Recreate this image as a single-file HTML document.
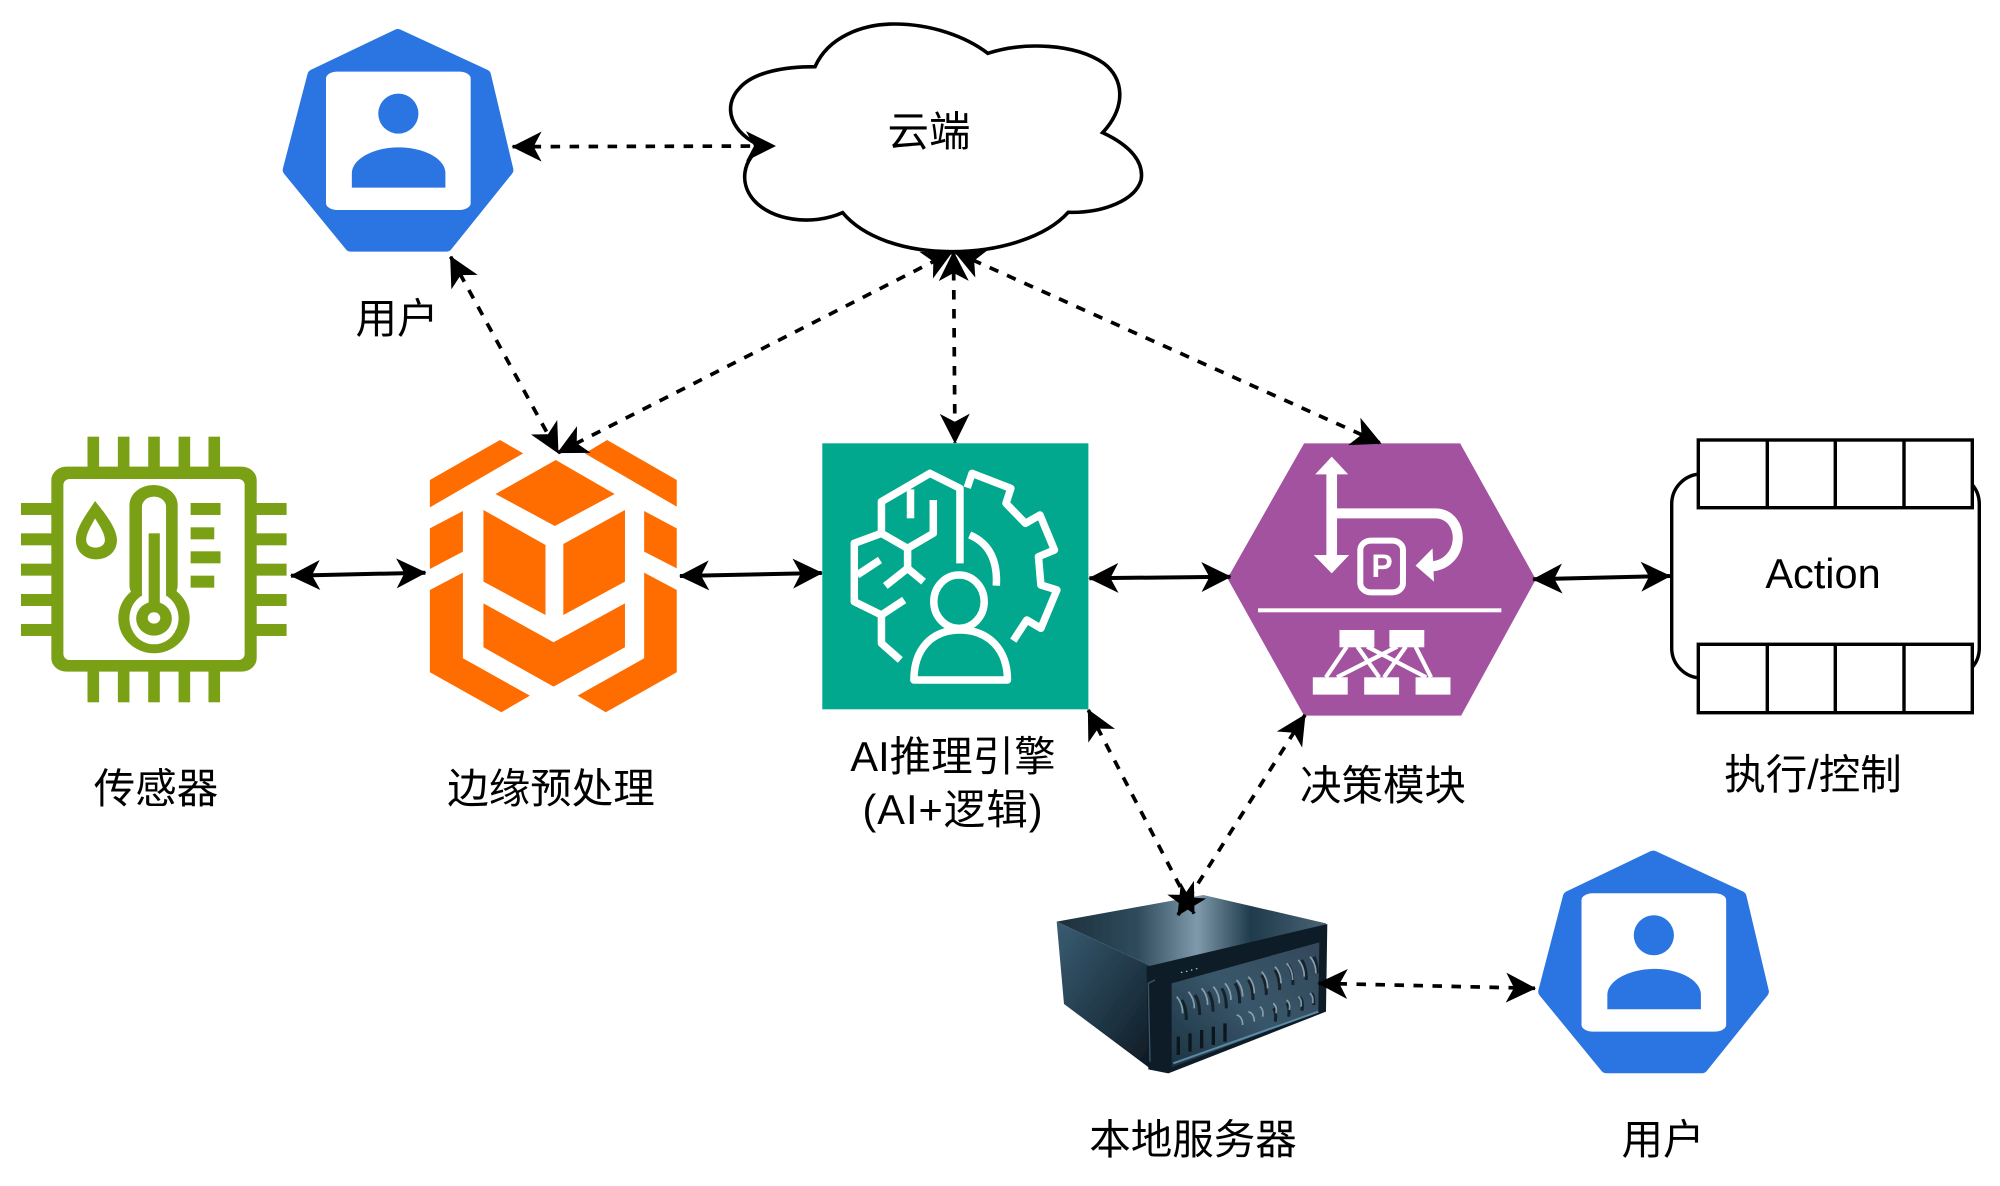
<!DOCTYPE html>
<html><head><meta charset="utf-8"><style>html,body{margin:0;padding:0;background:#fff}svg{display:block}text{font-family:"Liberation Sans","Noto Sans CJK SC",sans-serif;font-size:41.5px;fill:#000;text-anchor:middle}</style></head><body>
<svg width="2000" height="1186" viewBox="0 0 2000 1186" xmlns="http://www.w3.org/2000/svg">
<defs>
<marker id="a" viewBox="0 0 30 30" refX="29" refY="15" markerWidth="30" markerHeight="30" markerUnits="userSpaceOnUse" orient="auto-start-reverse"><path d="M30,15 L0,0 L8,15 L0,30 Z" fill="#000"/></marker>
<linearGradient id="st" x1="0" x2="1" y1="0" y2="0"><stop offset="0" stop-color="#1c2f3c"/><stop offset=".3" stop-color="#2f4b5c"/><stop offset=".52" stop-color="#7e9aab"/><stop offset=".72" stop-color="#1f3b4b"/><stop offset="1" stop-color="#4a6475"/></linearGradient>
<linearGradient id="sl" x1="0" x2="1" y1="0" y2="1"><stop offset="0" stop-color="#3a5c72"/><stop offset=".6" stop-color="#1d3342"/><stop offset="1" stop-color="#0c151c"/></linearGradient>
<linearGradient id="sf" x1="0" x2="1" y1="1" y2="0"><stop offset="0" stop-color="#1c3342"/><stop offset=".5" stop-color="#39566a"/><stop offset="1" stop-color="#33495a"/></linearGradient>
<filter id="b"><feGaussianBlur stdDeviation="1.1"/></filter>
<g id="u">
<g transform="translate(260,0) scale(.574,.3333)">
<polygon points="240,105 392,226 431,510 325,737 158,737 50,510 93,226" fill="#2a75e2" stroke="#2a75e2" stroke-width="12" stroke-linejoin="round" vector-effect="non-scaling-stroke"/>
<rect x="115" y="215" width="252" height="415" rx="20" ry="20" fill="#fff"/>
<ellipse cx="241" cy="341" rx="35" ry="60" fill="#2a75e2"/>
<path d="M160,563 L160,520 C160,475 200,442 241,442 C285,442 323,475 323,520 L323,563 Z" fill="#2a75e2"/>
</g>
</g>
</defs>

<!-- sensor -->
<g transform="translate(0,400) scale(.4464,.3333)" fill="#7aa116">
<rect x="196" y="110" width="26" height="100"/><rect x="264" y="110" width="26" height="100"/><rect x="332" y="110" width="26" height="100"/><rect x="400" y="110" width="26" height="100"/><rect x="467" y="110" width="26" height="100"/>
<rect x="196" y="805" width="26" height="102"/><rect x="264" y="805" width="26" height="102"/><rect x="332" y="805" width="26" height="102"/><rect x="400" y="805" width="26" height="102"/><rect x="467" y="805" width="26" height="102"/>
<rect x="47" y="309" width="80" height="36"/><rect x="47" y="400" width="80" height="36"/><rect x="47" y="491" width="80" height="36"/><rect x="47" y="582" width="80" height="36"/><rect x="47" y="672" width="80" height="36"/>
<rect x="565" y="309" width="77" height="36"/><rect x="565" y="400" width="77" height="36"/><rect x="565" y="491" width="77" height="36"/><rect x="565" y="582" width="77" height="36"/><rect x="565" y="672" width="77" height="36"/>
<rect x="115" y="200" width="460" height="615" rx="34" ry="40"/>
<rect x="142" y="237" width="406" height="543" rx="14" ry="18" fill="#fff"/>
<rect x="290" y="255" width="108" height="360" rx="54" ry="60"/>
<ellipse cx="345" cy="655" rx="80" ry="105"/>
<rect x="318" y="290" width="54" height="320" rx="27" ry="30" fill="#fff"/>
<ellipse cx="345" cy="655" rx="55" ry="78" fill="#fff"/>
<ellipse cx="345" cy="656" rx="40" ry="51"/>
<rect x="333" y="400" width="25" height="220"/>
<ellipse cx="345" cy="654" rx="14" ry="17" fill="#fff"/>
<rect x="427" y="309" width="67" height="36"/><rect x="427" y="382" width="53" height="36"/><rect x="427" y="454" width="67" height="36"/><rect x="427" y="527" width="53" height="36"/>
<path d="M213,303 C190,350 170,385 170,420 C170,455 190,478 215,478 C242,478 262,455 262,420 C262,385 235,340 213,303 Z"/>
<path d="M213,355 C205,375 193,400 193,420 C193,435 203,443 214,443 C225,443 235,435 235,420 C235,400 222,375 213,355 Z" fill="#fff"/>
</g>

<!-- orange -->
<g transform="translate(0,400) scale(.4464,.3333)" fill="#ff6d00">
<polygon points="963,240 1120,120 1172,160 963,322"/>
<polygon points="1360,120 1516,240 1516,320 1310,160"/>
<polygon points="963,385 1037,333 1037,455 963,507"/>
<polygon points="1443,333 1516,385 1516,505 1443,455"/>
<polygon points="963,570 1037,518 1037,775 1187,887 1123,937 963,817"/>
<polygon points="1443,518 1516,570 1516,817 1357,937 1294,887 1443,775"/>
<polygon points="1245,180 1377,282 1243,378 1110,282"/>
<polygon points="1083,330 1222,435 1222,645 1083,545"/>
<polygon points="1400,330 1400,545 1262,645 1262,432"/>
<polygon points="1083,610 1240,727 1400,610 1400,742 1240,860 1083,742"/>
</g>

<!-- teal -->
<g transform="translate(800,420) scale(.4847,.3333)">
<rect x="46" y="70" width="549" height="798" fill="#01a88d"/>
<g fill="none" stroke="#fff" stroke-width="7.5" stroke-linejoin="round">
<path vector-effect="non-scaling-stroke" d="M207,720 L168,670 L168,585 L112,545 L112,370 L168,340 L168,245 L268,160 L330,205 L330,430"/>
<path vector-effect="non-scaling-stroke" d="M228,295 L228,208"/>
<path vector-effect="non-scaling-stroke" d="M275,240 L275,340 L222,385 L168,340"/>
<path vector-effect="non-scaling-stroke" d="M222,385 L222,445 L176,498 M222,445 L255,485"/>
<path vector-effect="non-scaling-stroke" d="M165,420 L118,465"/>
<path vector-effect="non-scaling-stroke" d="M215,540 L168,585"/>
<path vector-effect="non-scaling-stroke" d="M345,203 L355,160 L435,205 L425,250 L465,310 L495,285 L525,390 L492,410 L497,495 L530,510 L497,625 L468,600 L440,662"/>
<path vector-effect="non-scaling-stroke" d="M350,345 C390,370 408,420 405,497"/>
<ellipse vector-effect="non-scaling-stroke" cx="328" cy="545" rx="52" ry="80"/>
<path vector-effect="non-scaling-stroke" d="M235,780 C235,690 270,630 330,630 C390,630 428,690 428,780 Z"/>
</g>
</g>

<!-- purple -->
<g transform="translate(800,420) scale(.4847,.3333)">
<polygon points="1040,70 1362,70 1518,478 1364,887 1040,887 882,475" fill="#a2529f"/>
<g fill="#fff">
<rect x="1086" y="150" width="22" height="270"/>
<polygon points="1097,110 1131,163 1063,163"/>
<polygon points="1060,405 1133,405 1097,460"/>
<polygon points="1270,437 1305,385 1308,485"/>
<rect x="945" y="565" width="502" height="12"/>
<rect x="1113" y="630" width="72" height="52"/><rect x="1216" y="630" width="72" height="52"/>
<rect x="1058" y="772" width="72" height="52"/><rect x="1164" y="772" width="72" height="52"/><rect x="1270" y="772" width="72" height="52"/>
</g>
<g fill="none" stroke="#fff">
<path vector-effect="non-scaling-stroke" stroke-width="10" d="M1097,280 L1310,280 C1375,280 1375,440 1295,440"/>
<rect vector-effect="non-scaling-stroke" stroke-width="6" x="1156" y="362" width="88" height="155" rx="22" ry="28"/>
<path vector-effect="non-scaling-stroke" stroke-width="4.2" d="M1128,680 L1085,772 M1150,680 L1195,772 M1170,680 L1292,772 M1232,680 L1108,772 M1250,680 L1205,772 M1270,680 L1302,772"/>
</g>
</g>
<text x="1382" y="577" style="font-size:32px;font-weight:bold;fill:#fff">P</text>

<!-- action -->
<g fill="none" stroke="#000" stroke-width="3.4">
<rect x="1671.7" y="474" width="307.6" height="204" rx="30" ry="30" fill="#fff"/>
<rect x="1698.3" y="440" width="274" height="67.7" fill="#fff"/>
<path d="M1767.3,440 V507.7 M1835.3,440 V507.7 M1904,440 V507.7"/>
<rect x="1698.3" y="644.3" width="274" height="68.4" fill="#fff"/>
<path d="M1767.3,644.3 V712.7 M1835.3,644.3 V712.7 M1904,644.3 V712.7"/>
</g>
<text x="1823" y="588">Action</text>

<!-- cloud -->
<g transform="translate(260,0) scale(.574,.3333)">
<path vector-effect="non-scaling-stroke" fill="#fff" stroke="#000" stroke-width="3.6" d="M967,200 C990,110 1050,72 1105,72 C1170,72 1230,110 1268,160 C1330,125 1420,130 1470,190 C1505,235 1510,320 1468,398 C1520,440 1540,490 1535,540 C1525,600 1470,640 1408,637 C1370,710 1290,755 1205,755 C1120,755 1050,710 1015,638 C960,680 890,660 860,600 C835,550 840,480 875,440 C820,400 805,320 835,265 C860,215 915,200 967,200 Z"/>
</g>
<text x="929" y="146">云端</text>

<!-- users -->
<use href="#u"/>
<use href="#u" transform="translate(1255.5,821.6)"/>

<!-- server -->
<g transform="translate(1040,880) scale(.3333)" filter="url(#b)">
<polygon points="50,125 490,45 858,130 860,180 835,190 390,270 340,262" fill="url(#st)"/>
<polygon points="50,125 340,262 365,262 330,565 72,372" fill="url(#sl)"/>
<polygon points="320,260 862,132 858,395 385,580 325,568" fill="#0f1c26"/>
<polygon points="395,310 838,187 835,395 395,562" fill="url(#sf)"/>
<path d="M345,300 L325,310 L330,545" fill="none" stroke="#3e5666" stroke-width="4"/>
<g fill="none" stroke="#0d1a23" stroke-width="9" opacity=".85">
<path d="M425,360 q14,20 14,60 M465,345 q14,20 14,60 M505,335 q14,20 14,60 M545,325 q14,20 14,60 M585,310 q14,20 14,60 M625,300 q14,20 14,60 M665,285 q14,20 14,60 M705,270 q14,20 14,60 M745,255 q14,20 14,60 M785,240 q14,20 14,60 M822,230 q10,20 10,50"/>
<path d="M700,385 q10,10 6,40 M740,370 q10,10 6,40 M780,352 q10,10 6,40 M815,340 q8,10 6,35"/>
</g>
<g fill="none" stroke="#9db2bf" stroke-width="5" opacity=".8">
<path d="M410,350 q18,20 18,50 M445,335 q18,20 18,50 M485,325 q18,20 18,50 M520,320 q18,20 18,50 M555,310 q18,20 18,50 M590,300 q18,20 18,50 M625,290 q18,20 18,50 M665,275 q18,20 18,50 M705,260 q18,20 18,50 M740,250 q18,20 18,50 M775,240 q18,20 18,50 M810,230 q18,20 18,50"/>
<path d="M590,405 q18,5 18,30 M625,395 q18,5 18,30 M660,380 q12,10 8,30 M700,370 q12,10 8,30 M740,360 q12,10 8,30 M775,350 q12,10 8,30 M810,340 q12,10 8,30"/>
</g>
<g stroke="#0b151c" stroke-width="10" fill="none"><path d="M415,470 V525 M450,460 V515 M485,450 V505 M520,440 V495 M555,430 V485"/></g>
<path d="M400,550 L835,395" stroke="#5a8aa5" stroke-width="6" fill="none"/>
<g fill="#8bc9a0"><circle cx="425" cy="277" r="2.5"/><circle cx="440" cy="274" r="2.5"/><circle cx="455" cy="270" r="2.5"/><circle cx="470" cy="266" r="2.5"/></g>
</g>

<!-- solid arrows -->
<g stroke="#000" stroke-width="4" fill="none">
<line x1="291" y1="575.7" x2="425.4" y2="572.7" marker-start="url(#a)" marker-end="url(#a)"/>
<line x1="680" y1="576" x2="821.8" y2="573" marker-start="url(#a)" marker-end="url(#a)"/>
<line x1="1089.4" y1="578.3" x2="1230.4" y2="576.7" marker-start="url(#a)" marker-end="url(#a)"/>
<line x1="1533.3" y1="579.3" x2="1670" y2="576" marker-start="url(#a)" marker-end="url(#a)"/>
</g>
<!-- dashed arrows -->
<g stroke="#000" stroke-width="3.7" fill="none" stroke-dasharray="9.5 9.5">
<line x1="512.6" y1="146.7" x2="775" y2="146" marker-start="url(#a)" marker-end="url(#a)"/>
<line x1="450.6" y1="256.7" x2="558" y2="452.7" marker-start="url(#a)" marker-end="url(#a)"/>
<line x1="558" y1="452.7" x2="952" y2="252" marker-start="url(#a)" marker-end="url(#a)"/>
<line x1="953.5" y1="252" x2="955" y2="442.7" marker-start="url(#a)" marker-end="url(#a)"/>
<line x1="955" y1="252" x2="1380.7" y2="443.3" marker-start="url(#a)" marker-end="url(#a)"/>
<line x1="1088.3" y1="710" x2="1194" y2="913.5" marker-start="url(#a)" marker-end="url(#a)"/>
<line x1="1305" y1="715" x2="1178" y2="915" marker-start="url(#a)" marker-end="url(#a)"/>
<line x1="1318.5" y1="983.3" x2="1535" y2="988.3" marker-start="url(#a)" marker-end="url(#a)"/>
</g>

<!-- labels -->
<text x="397" y="333">用户</text>
<text x="156" y="803">传感器</text>
<text x="551" y="803">边缘预处理</text>
<text x="953" y="771">AI推理引擎</text>
<text x="953" y="824" style="letter-spacing:1px">(AI+逻辑)</text>
<text x="1383" y="800">决策模块</text>
<text x="1813" y="789">执行/控制</text>
<text x="1193" y="1154">本地服务器</text>
<text x="1663" y="1154">用户</text>
</svg>
</body></html>
